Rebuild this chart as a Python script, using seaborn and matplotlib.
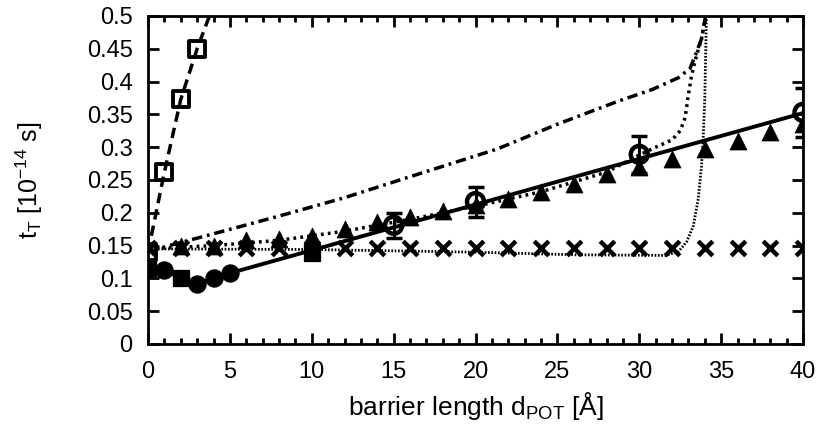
import numpy as np
import pandas as pd
import matplotlib
matplotlib.use('Agg')
import matplotlib.pyplot as plt
import seaborn as sns
from matplotlib.ticker import MultipleLocator

# data
circ_x = [0, 1, 3, 4, 5]
circ_y = [0.114, 0.113, 0.092, 0.100, 0.108]

circ_err_x = [15, 20, 30, 40]
circ_err_y = [0.181, 0.217, 0.289, 0.353]
circ_err = [0.019, 0.023, 0.028, 0.037]

solid_x = [0, 1, 2, 3, 4, 5, 40]
solid_y = [0.114, 0.113, 0.100, 0.092, 0.100, 0.108, 0.352]

sq_x = [0, 1, 2, 3]
sq_y = [0.14, 0.262, 0.373, 0.45]
sq_low_x = [0, 2, 10]
sq_low_y = [0.116, 0.100, 0.139]
dash_x = [0, 1, 2, 3, 3.75]
dash_y = [0.14, 0.262, 0.373, 0.45, 0.5]

tri_x = [2, 4, 6, 8, 10, 12, 14, 16, 18, 20, 22, 24, 26, 28, 30, 32, 34, 36, 38, 40]
tri_y = [0.150, 0.150, 0.158, 0.160, 0.165, 0.176, 0.186, 0.194, 0.203, 0.212,
         0.221, 0.232, 0.244, 0.259, 0.270, 0.282, 0.297, 0.309, 0.323, 0.335]

cross_x = list(range(0, 41, 2))
cross_y = [0.146] * len(cross_x)

# heavy dotted curve
hdot_x = [0, 4, 8, 12, 16, 20, 24, 28, 30, 31, 32, 32.5, 32.8, 33.0, 33.2, 33.5, 33.8, 34.05]
hdot_y = [0.145, 0.150, 0.158, 0.172, 0.190, 0.210, 0.232, 0.262, 0.288, 0.300, 0.311,
          0.325, 0.345, 0.380, 0.410, 0.440, 0.465, 0.5]

# dash-dot curve
dd_x = [0, 1, 4, 8, 12, 16, 21.3, 25, 28.7, 30.8, 32.4, 33.1, 33.5, 33.8, 34.05]
dd_y = [0.14, 0.148, 0.168, 0.195, 0.223, 0.255, 0.297, 0.335, 0.370, 0.388, 0.406,
        0.420, 0.445, 0.465, 0.5]

# fine dotted curve
fdot_x = [0, 10, 15, 20, 26, 31.6, 32.4, 32.9, 33.3, 33.6, 33.8, 33.9, 34.0, 34.1]
fdot_y = [0.145, 0.144, 0.142, 0.140, 0.136, 0.135, 0.141, 0.156, 0.180, 0.221,
          0.271, 0.312, 0.373, 0.5]

sns.set_style('ticks')
plt.rcParams['font.family'] = ['Liberation Sans', 'DejaVu Sans']
plt.rcParams['mathtext.fontset'] = 'custom'
plt.rcParams['mathtext.rm'] = 'Liberation Sans'
plt.rcParams['mathtext.it'] = 'Liberation Sans'

fig = plt.figure(figsize=(8.21, 4.26), dpi=100)
ax = fig.add_axes([0.1803, 0.1925, 0.7978, 0.77])

lw = 2.5
sns.lineplot(x=dash_x, y=dash_y, ax=ax, color='k', lw=lw, sort=False,
             estimator=None, linestyle=(0, (3.0, 1.8)))
sns.lineplot(x=dd_x, y=dd_y, ax=ax, color='k', lw=lw, sort=False,
             estimator=None, linestyle=(0, (3.0, 1.4, 0.8, 1.4)))
sns.lineplot(x=hdot_x, y=hdot_y, ax=ax, color='k', lw=lw, sort=False,
             estimator=None, linestyle=(0, (0.8, 1.2)))
sns.lineplot(x=fdot_x, y=fdot_y, ax=ax, color='k', lw=2.0, sort=False,
             estimator=None, linestyle=(0, (0.6, 0.6)))
sns.lineplot(x=solid_x, y=solid_y, ax=ax, color='k', lw=2.8, sort=False,
             estimator=None)

ax.errorbar(circ_err_x, circ_err_y, yerr=circ_err, fmt='none', ecolor='k',
            elinewidth=2.2, capsize=5.5, capthick=2.5, zorder=4)

sns.scatterplot(x=tri_x, y=tri_y, ax=ax, marker='^', s=150, color='k',
                edgecolor='k', linewidth=0.5, zorder=5)
sns.scatterplot(x=cross_x, y=cross_y, ax=ax, marker='x', s=110, color='k',
                linewidth=3.2, zorder=5)
sns.scatterplot(x=circ_x, y=circ_y, ax=ax, marker='o', s=150, color='k',
                edgecolor='k', zorder=6)
sns.scatterplot(x=circ_err_x, y=circ_err_y, ax=ax, marker='o', s=150,
                facecolor='none', edgecolor='k', linewidth=3.2, zorder=6)
sns.scatterplot(x=sq_x, y=sq_y, ax=ax, marker='s', s=130, facecolor='none',
                edgecolor='k', linewidth=2.8, zorder=6)
sns.scatterplot(x=sq_low_x, y=sq_low_y, ax=ax, marker='s', s=130, color='k',
                edgecolor='k', zorder=6)

ax.set_xlim(0, 40)
ax.set_ylim(0, 0.5)
ax.xaxis.set_major_locator(MultipleLocator(5))
ax.xaxis.set_minor_locator(MultipleLocator(1))
ax.set_yticks(np.arange(0, 0.501, 0.05))
ax.set_yticklabels(['0', '0.05', '0.1', '0.15', '0.2', '0.25', '0.3', '0.35',
                    '0.4', '0.45', '0.5'])
ax.tick_params(which='both', direction='in', top=True, right=True,
               labelsize=17, width=2, color='k', labelcolor='k')
ax.tick_params(axis='y', pad=11)
ax.tick_params(axis='x', pad=12)
ax.tick_params(which='major', length=8)
ax.tick_params(which='minor', length=4)
for s in ax.spines.values():
    s.set_linewidth(2)
    s.set_color('k')

ax.set_xlabel('barrier length d$_{\\mathrm{POT}}$ [Å]', fontsize=19, color='k',
              labelpad=5)
ax.set_ylabel('t$_{\\mathrm{T}}$ [10$^{\\mathrm{-14}}$ s]', fontsize=18, color='k')
ax.yaxis.set_label_coords(-0.158, 0.5)

fig.savefig('out.png', dpi=100)
